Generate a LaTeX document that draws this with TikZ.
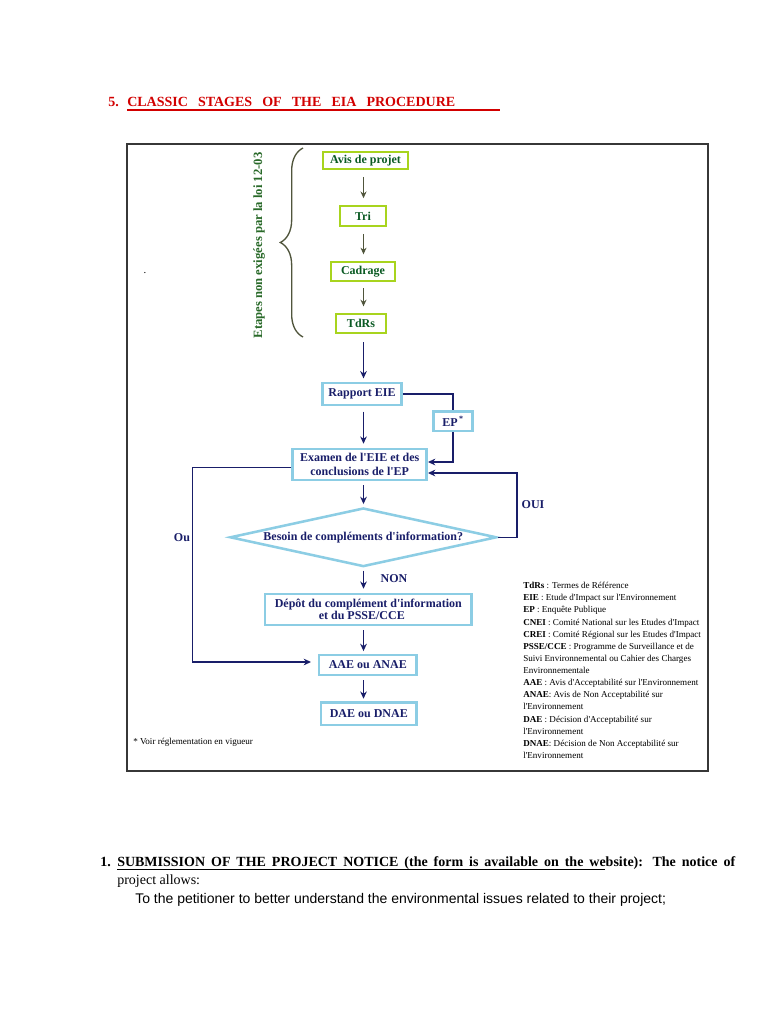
\documentclass[tikz,border=0pt]{standalone}
\usepackage{fontspec}
\setmainfont{Liberation Serif}[Ligatures=TeXOff]
\newfontfamily\arialfont{Liberation Sans}
\usetikzlibrary{arrows.meta,shapes.geometric,decorations.pathreplacing,calc}
\definecolor{titlered}{RGB}{210,0,0}
\definecolor{limeb}{RGB}{168,212,30}
\definecolor{dgreen}{RGB}{10,90,35}
\definecolor{rgreen}{RGB}{40,105,40}
\definecolor{lblue}{RGB}{140,205,228}
\definecolor{navy}{RGB}{25,30,105}
\definecolor{oliveg}{RGB}{80,85,60}
\definecolor{framecol}{RGB}{55,55,55}
\begin{document}
\begin{tikzpicture}[x=0.75pt,y=-0.75pt,
 gbox/.style={draw=limeb,line width=1.5pt,text=dgreen,font=\fontsize{9}{10}\selectfont\bfseries,inner sep=0pt,align=center},
 bbox/.style={draw=lblue,line width=1.9pt,text=navy,font=\fontsize{9}{11}\selectfont\bfseries,inner sep=0pt,align=center,fill=white},
 garrow/.style={draw=oliveg,line width=1.1pt,-{Stealth[length=5pt,width=4.5pt]},shorten <=5pt,shorten >=5pt},
 barrow/.style={draw=navy,line width=1.2pt,-{Stealth[length=5.5pt,width=5pt]}},
 bline/.style={draw=navy,line width=1.2pt},
 lbl/.style={text=navy,font=\fontsize{9}{10}\selectfont\bfseries,inner sep=0pt},
 heading/.style={anchor=base west,inner sep=0pt}]

\useasboundingbox[fill=white] (0,0) rectangle (768,1024);

% title
\node[heading,text=titlered,font=\fontsize{10.5}{12}\selectfont\bfseries] (num5) at (108,106.5) {5.};
\node[heading,text=titlered,font=\fontsize{10.5}{12}\selectfont\bfseries] (title) at (127,106.5) {\makebox[246pt][s]{CLASSIC STAGES OF THE EIA PROCEDURE}};
\draw[titlered,line width=0.8pt] (127,110) -- (500,110);

% frame
\draw[framecol,line width=1.6pt] (127,144) rectangle (708,771);
\node[inner sep=0pt,font=\fontsize{8}{9}\selectfont] (dot) at (145,273) {.};

% brace and rotated text
\draw[oliveg,line width=1pt,decorate,decoration={brace,amplitude=17pt}] (303,337) -- (303,148);
\node[rotate=90,text=rgreen,font=\fontsize{9.5}{10}\selectfont\bfseries,inner sep=0pt] (etapes) at (259,245.5) {Etapes non exigées par la loi 12-03};

% green boxes
\node[gbox,minimum width=63.75pt,minimum height=13.2pt] (avis) at (365.5,160.5) {Avis de projet};
\node[gbox,minimum width=34.5pt,minimum height=15.2pt] (tri) at (363,216) {Tri};
\node[gbox,minimum width=48.2pt,minimum height=14pt] (cadrage) at (363,271.3) {Cadrage};
\node[gbox,minimum width=37.7pt,minimum height=14.5pt] (tdrs) at (361,323.7) {TdRs};

% blue boxes
\node[bbox,minimum width=59.25pt,minimum height=16.5pt] (rapport) at (362,394) {Rapport EIE};
\node[bbox,minimum width=29pt,minimum height=14.5pt] (ep) at (453,421.3) {EP\textsuperscript{\,*}};
\node[bbox,minimum width=100.5pt,minimum height=23.25pt,font=\fontsize{9}{10.5}\selectfont\bfseries] (examen) at (359.7,464.5) {Examen de l'EIE et des\\conclusions de l'EP};
\node[diamond,draw=lblue,line width=1.9pt,text=navy,font=\fontsize{9}{10}\selectfont\bfseries,inner sep=0pt,aspect=4.55,minimum width=200pt,minimum height=44pt] (besoin) at (363.3,537.3) {Besoin de compléments d'information?};
\node[bbox,minimum width=155pt,minimum height=23.25pt,font=\fontsize{9}{9.5}\selectfont\bfseries] (depot) at (368.3,609.5) {Dépôt du complément d'information\\\hspace*{-9.75pt}et du PSSE/CCE};
\node[bbox,minimum width=73.3pt,minimum height=15pt] (aae) at (367.8,665) {AAE ou ANAE};
\node[bbox,minimum width=71.8pt,minimum height=16.7pt] (dae) at (368.8,713.8) {DAE ou DNAE};

% connectors
\coordinate (spine) at (363.5,0);
\coordinate (ouix) at (516.7,0);
\coordinate (loopx) at (192.3,0);
\draw[garrow] (avis.south -| spine) -- (tri.north -| spine);
\draw[garrow] (tri.south -| spine) -- (cadrage.north -| spine);
\draw[garrow] (cadrage.south -| spine) -- (tdrs.north -| spine);
\draw[barrow,shorten <=6pt,shorten >=2.5pt] (tdrs.south -| spine) -- (rapport.north -| spine);
\draw[barrow,shorten <=4pt,shorten >=3pt] (rapport.south -| spine) -- (examen.north -| spine);
\draw[bline] (rapport.east) -| (ep.north);
\draw[barrow] (ep.south) |- ($(examen.east)+(0,-2.5)$);
\draw[barrow,shorten <=3pt,shorten >=2pt] (examen.south -| spine) -- (besoin.north -| spine);
\draw[barrow] (besoin.east) -| ($(examen.east -| ouix)+(0,8.5)$) -- ($(examen.east)+(0,8.5)$);
\draw[barrow,shorten >=5pt] ($(examen.west)+(0,3)$) -| ($(aae.west -| loopx)+(0,-3)$) -- ($(aae.west)+(0,-3)$);
\draw[barrow,shorten <=2pt,shorten >=3pt] (besoin.south -| spine) -- (depot.north -| spine);
\draw[barrow,shorten <=3pt,shorten >=2pt] (depot.south -| spine) -- (aae.north -| spine);
\draw[barrow,shorten <=3pt,shorten >=2pt] (aae.south -| spine) -- (dae.north -| spine);

% labels
\node[lbl] (oui) at (533,505) {OUI};
\node[lbl] (ou) at (182,538) {Ou};
\node[lbl] (non) at (394,579) {NON};

% legend
\node[anchor=north west,inner sep=0pt,align=left,font=\fontsize{6.8}{9.1}\selectfont] (legend) at (523,582) {%
\textbf{TdRs} : Termes de Référence\\
\textbf{EIE} : Etude d'Impact sur l'Environnement\\
\textbf{EP} : Enquête Publique\\
\textbf{CNEI} : Comité National sur les Etudes d'Impact\\
\textbf{CREI} : Comité Régional sur les Etudes d'Impact\\
\textbf{PSSE/CCE} : Programme de Surveillance et de\\
Suivi Environnemental ou Cahier des Charges\\
Environnementale\\
\textbf{AAE} : Avis d'Acceptabilité sur l'Environnement\\
\textbf{ANAE}: Avis de Non Acceptabilité sur\\
l'Environnement\\
\textbf{DAE} : Décision d'Acceptabilité sur\\
l'Environnement\\
\textbf{DNAE}: Décision de Non Acceptabilité sur\\
l'Environnement};

\node[anchor=west,inner sep=0pt,font=\fontsize{6.8}{8}\selectfont] (note) at (133,742) {* Voir réglementation en vigueur};

% bottom text
\node[heading,font=\fontsize{10.5}{12}\selectfont\bfseries] (num1) at (100,866) {1.};
\node[heading,font=\fontsize{10.5}{12}\selectfont\bfseries] (sub) at (117,866) {\makebox[463.5pt][s]{SUBMISSION OF THE PROJECT NOTICE (the form is available on the website): The notice of}};
\draw[line width=0.8pt] (117,869.5) -- (605,869.5);
\node[heading,font=\fontsize{10.5}{12}\selectfont] (allows) at (117,884) {project allows:};
\node[heading,font=\arialfont\fontsize{10.5}{12}\selectfont] (petit) at (135,903) {To the petitioner to better understand the environmental issues related to their project;};
\end{tikzpicture}
\end{document}
